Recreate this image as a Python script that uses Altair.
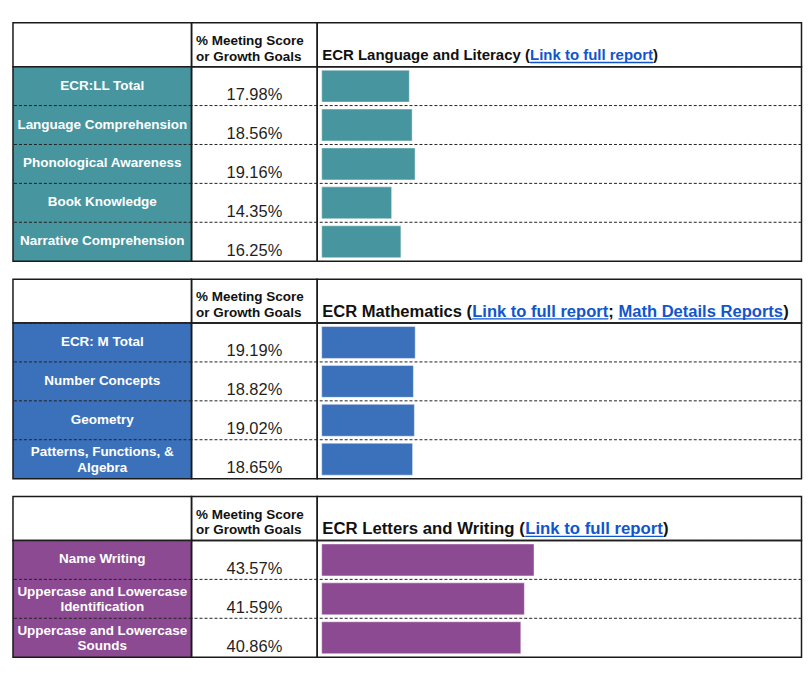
import altair as alt
import pandas as pd

FONT = "Liberation Sans"

# ---------------- data ----------------
ll_labels = ["ECR:LL Total", "Language Comprehension", "Phonological Awareness",
             "Book Knowledge", "Narrative Comprehension"]
ll_values = [17.98, 18.56, 19.16, 14.35, 16.25]

m_labels = ["ECR: M Total", "Number Concepts", "Geometry",
            "Patterns, Functions, &\nAlgebra"]
m_values = [19.19, 18.82, 19.02, 18.65]

lw_labels = ["Name Writing", "Uppercase and Lowercase\nIdentification",
             "Uppercase and Lowercase\nSounds"]
lw_values = [43.57, 41.59, 40.86]

title_segments = [
    [("ECR Language and Literacy (", "text"), ("Link to full report", "link"), (")", "text")],
    [("ECR Mathematics (", "text"), ("Link to full report", "link"), ("; ", "text"),
     ("Math Details Reports", "link"), (")", "text")],
    [("ECR Letters and Writing (", "text"), ("Link to full report", "link"), (")", "text")],
]
title_sizes = [15, 16.6, 16.8]
colors = ["#47959f", "#3b71bb", "#8c4a92"]
header_col2 = "% Meeting Score\nor Growth Goals"

# ---------------- layout constants ----------------
W1, W2, W3 = 179, 126, 485.5
HDR = 44
STEP = 39
GAP = 18
LINK = "#1155cc"
INK = "#111111"
BORDER = "#1a1a1a"

# Arial/Liberation Sans Bold advance widths (per 1000 em) for title layout
BW = {" ": 278, "(": 333, ")": 333, ";": 333,
      "E": 667, "C": 722, "R": 722, "L": 611, "M": 833, "D": 722, "W": 944,
      "a": 556, "c": 556, "d": 611, "e": 556, "f": 333, "g": 611, "h": 611,
      "i": 278, "k": 556, "l": 278, "m": 889, "n": 611, "o": 611, "p": 611,
      "r": 389, "s": 556, "t": 333, "u": 611, "y": 556}


def text_width(s, size):
    return sum(BW.get(ch, 556) for ch in s) / 1000.0 * size


def empty_cell(w, h, stroke, sw=1.5):
    return alt.Chart(pd.DataFrame({"t": [" "]})).mark_text().encode(
        text="t:N").properties(width=w, height=h,
                               view=alt.ViewBackground(stroke=stroke, strokeWidth=sw))


def header_row(segs, size):
    h1 = empty_cell(W1, HDR, BORDER)
    h2 = alt.Chart(pd.DataFrame({"t": [header_col2]})).mark_text(
        align="left", baseline="alphabetic", fontSize=13.5, fontWeight="bold",
        lineBreak="\n", lineHeight=16, color=INK, font=FONT
    ).encode(x=alt.value(4.5), y=alt.value(22), text="t:N").properties(width=W2, height=HDR)

    rows = []
    x = 5.0
    for s, kind in segs:
        w = text_width(s.rstrip(), size)
        rows.append({"seg": s, "kind": kind, "x": x, "x2": x + w})
        x += text_width(s, size)
    tdf = pd.DataFrame(rows)
    tb = alt.Chart(tdf)
    txt = tb.mark_text(align="left", baseline="alphabetic", fontSize=size,
                       fontWeight="bold", font=FONT).encode(
        x=alt.X("x:Q", scale=None, axis=None),
        y=alt.value(37.5),
        text="seg:N",
        color=alt.Color("kind:N", scale=alt.Scale(domain=["text", "link"], range=[INK, LINK]),
                        legend=None),
    )
    ul = tb.transform_filter("datum.kind == 'link'").mark_rule(
        color=LINK, strokeWidth=1.3).encode(
        x=alt.X("x:Q", scale=None, axis=None), x2="x2:Q", y=alt.value(39.8))
    h3 = alt.layer(txt, ul).properties(width=W3, height=HDR)
    return [h1, h2, h3]


def body_row(labels, values, color):
    df = pd.DataFrame({"row": labels, "pct": values})
    n = len(labels)
    bh = STEP * n
    yscale = alt.Scale(paddingInner=0, paddingOuter=0)
    yenc = alt.Y("row:N", sort=labels, axis=None, scale=yscale)
    base = alt.Chart(df)
    sep = base.mark_rule(color="#222222", strokeDash=[3, 2], strokeWidth=1).encode(
        y=alt.Y("row:N", sort=labels, axis=None, scale=yscale, bandPosition=0))

    lab_style = dict(color="white", fontWeight="bold", fontSize=13.5, font=FONT,
                     lineBreak="\n", lineHeight=15.5, baseline="middle")
    lab1 = base.transform_filter("indexof(datum.row, '\\n') < 0").mark_text(
        dy=-0.5, **lab_style).encode(y=yenc, text="row:N")
    lab2 = base.transform_filter("indexof(datum.row, '\\n') >= 0").mark_text(
        dy=-7, **lab_style).encode(y=yenc, text="row:N")
    c1 = alt.layer(sep, lab1, lab2).properties(width=W1, height=bh,
                                               view=alt.ViewBackground(fill=color))

    pct = base.transform_calculate(lab="format(datum.pct, '.2f') + '%'").mark_text(
        fontSize=16.5, color="#1f1f1f", baseline="alphabetic", dy=14, font=FONT
    ).encode(y=yenc, text="lab:N")
    c2 = alt.layer(sep, pct).properties(width=W2, height=bh)

    bars = base.mark_bar(size=32, color=color, stroke="white", strokeWidth=1,
                         strokeOpacity=0.45).encode(
        x=alt.X("pct:Q", scale=alt.Scale(domain=[0, 100], range=[4.5, 493]), axis=None),
        y=yenc)
    c3 = alt.layer(sep, bars).properties(width=W3, height=bh)
    return [c1, c2, c3]


cells = []
groups = [(ll_labels, ll_values), (m_labels, m_values), (lw_labels, lw_values)]
for i, ((labels, values), segs, size, color) in enumerate(
        zip(groups, title_segments, title_sizes, colors)):
    if i > 0:
        cells += [empty_cell(W1, GAP, "transparent", 0),
                  empty_cell(W2, GAP, "transparent", 0),
                  empty_cell(W3, GAP, "transparent", 0)]
    cells += header_row(segs, size)
    cells += body_row(labels, values, color)

chart = alt.concat(*cells, columns=3, spacing=0, bounds="flush").properties(
    padding={"left": 3, "top": 13, "right": 0, "bottom": 0},
    background="white",
).configure(font=FONT).configure_view(stroke=BORDER, strokeWidth=1.5)

chart.save("out.html", embed_options={"renderer": "svg", "actions": False})
